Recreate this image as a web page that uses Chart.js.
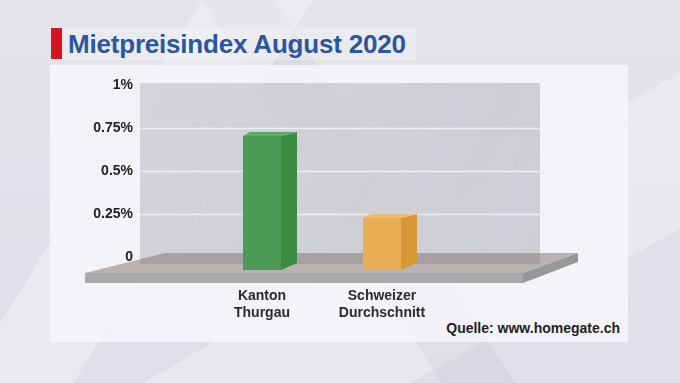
<!DOCTYPE html>
<html><head><meta charset="utf-8">
<script src="https://cdn.jsdelivr.net/npm/chart.js@4/dist/chart.umd.min.js"></script>
<style>
html,body{margin:0;padding:0;}
body{width:680px;height:383px;overflow:hidden;position:relative;font-family:"Liberation Sans",Arial,sans-serif;
background:
 linear-gradient(122deg, rgba(255,255,255,0) 0 22%, rgba(255,255,255,0.3) 22% 34%, rgba(255,255,255,0) 34%),
 linear-gradient(58deg, rgba(190,190,202,0) 0 48%, rgba(190,190,202,0.22) 48% 56%, rgba(190,190,202,0) 56%),
 linear-gradient(150deg, rgba(255,255,255,0) 0 60%, rgba(255,255,255,0.25) 60% 80%, rgba(255,255,255,0) 80%),
 linear-gradient(180deg,#e4e4ea,#dfdfe8);}
#panel{position:absolute;left:50px;top:65px;width:578px;height:277px;background:rgba(245,245,249,0.85);}
#titlebg{position:absolute;left:51px;top:28px;width:365px;height:32px;background:rgba(255,255,255,0.25);}
#redbar{position:absolute;left:51px;top:28px;width:11px;height:31px;background:#d6141d;}
#title{position:absolute;left:68px;top:29px;font-weight:bold;font-size:26px;line-height:30px;color:#2a57a0;white-space:nowrap;letter-spacing:-0.2px;}
#source{position:absolute;right:60px;top:320px;font-weight:bold;font-size:14px;line-height:16px;color:#222;white-space:nowrap;}
canvas{position:absolute;left:0;top:0;}
</style></head>
<body>
<div id="panel"></div>
<div id="titlebg"></div>
<div id="redbar"></div>
<div id="title">Mietpreisindex August 2020</div>
<div id="source">Quelle: www.homegate.ch</div>
<canvas id="c" width="680" height="383"></canvas>
<script>
const categories = [['Kanton','Thurgau'],['Schweizer','Durchschnitt']];
const values = [0.72, 0.28];
const tickValues = [0, 0.25, 0.5, 0.75, 1];
const tickLabels = ['0', '0.25%', '0.5%', '0.75%', '1%'];

const frontColors = ['#4c9b57', '#e7ae54'];
const sideColors = ['#3b8c42', '#d69832'];
const topColors = ['#5cab64', '#ecbd70'];

const threeD = {
  id: 'threeD',
  beforeDatasetsDraw(chart) {
    const c = chart.ctx, ca = chart.chartArea, yt = chart.scales.yt;
    c.save();
    const fy = ca.bottom + 3, by = ca.bottom - 17, th = 10;
    const fL = ca.left - 117, fR = ca.right + 81, bL = ca.left - 37, bR = ca.right + 136;
    c.fillStyle = '#bab1b1';
    c.beginPath(); c.moveTo(fL, fy); c.lineTo(bL, by); c.lineTo(bR, by); c.lineTo(fR, fy); c.closePath(); c.fill();
    c.fillStyle = '#a9a9ab';
    c.fillRect(fL, fy, fR - fL, th);
    c.fillStyle = '#98989c';
    c.beginPath(); c.moveTo(fR, fy); c.lineTo(bR, by); c.lineTo(bR, by + 9); c.lineTo(fR, fy + th); c.closePath(); c.fill();
    const wL = ca.left - 62, wR = ca.right + 98, wT = yt.getPixelForValue(1) - 2, wB = ca.bottom - 6;
    const g = c.createLinearGradient(wL, wT, wR, wB);
    g.addColorStop(0, 'rgba(112,115,124,0.24)');
    g.addColorStop(1, 'rgba(112,115,124,0.28)');
    c.fillStyle = g;
    c.fillRect(wL, wT, wR - wL, wB - wT);
    c.strokeStyle = 'rgba(238,239,243,0.95)';
    c.lineWidth = 1.5;
    tickValues.forEach(v => {
      if (v === 0 || v === 1) return;
      const y = Math.round(yt.getPixelForValue(v)) + 0.5;
      c.beginPath(); c.moveTo(wL, y); c.lineTo(wR, y); c.stroke();
    });
    c.restore();
  },
  afterDatasetsDraw(chart) {
    const c = chart.ctx;
    const meta = chart.getDatasetMeta(0);
    c.save();
    meta.data.forEach((bar, i) => {
      const w = bar.width, l = bar.x - w / 2, r = bar.x + w / 2, t = bar.y, b = bar.base;
      const dx = 16, dyT = -4, dyB = -7, dxL = 7;
      c.fillStyle = sideColors[i];
      c.beginPath(); c.moveTo(r, t); c.lineTo(r + dx, t + dyT); c.lineTo(r + dx, b + dyB); c.lineTo(r, b); c.closePath(); c.fill();
      c.fillStyle = topColors[i];
      c.beginPath(); c.moveTo(l, t); c.lineTo(l + dxL, t + dyT); c.lineTo(r + dx, t + dyT); c.lineTo(r, t); c.closePath(); c.fill();
    });
    c.restore();
  }
};

const font14 = { family: '"Liberation Sans", Arial, sans-serif', size: 14, weight: 'bold', lineHeight: 1.2 };

new Chart(document.getElementById('c'), {
  type: 'bar',
  data: {
    labels: categories,
    datasets: [{
      data: values,
      backgroundColor: frontColors,
      borderWidth: 0,
      categoryPercentage: 1,
      barPercentage: 0.317,
      yAxisID: 'y'
    }]
  },
  options: {
    responsive: false,
    animation: false,
    devicePixelRatio: 1,
    layout: { padding: { left: 0, right: 238, top: 84, bottom: 0 } },
    plugins: { legend: { display: false }, tooltip: { enabled: false }, title: { display: false } },
    scales: {
      x: {
        type: 'category',
        grid: { display: false, drawTicks: false },
        border: { display: false },
        ticks: { padding: 18, color: '#2b2b2b', font: font14, maxRotation: 0 },
        afterFit(s) { s.height = 113; }
      },
      y: { display: false, min: 0, max: 1 },
      yt: {
        position: 'left',
        min: -0.0756,
        max: 1.0058,
        grid: { display: false, drawTicks: false },
        border: { display: false },
        afterBuildTicks(s) { s.ticks = tickValues.map(v => ({ value: v })); },
        ticks: {
          padding: 69,
          color: '#222',
          font: font14,
          callback: (v) => tickLabels[tickValues.indexOf(v)]
        },
        afterFit(s) { s.width = 202; }
      }
    }
  },
  plugins: [threeD]
});
</script>
</body></html>
